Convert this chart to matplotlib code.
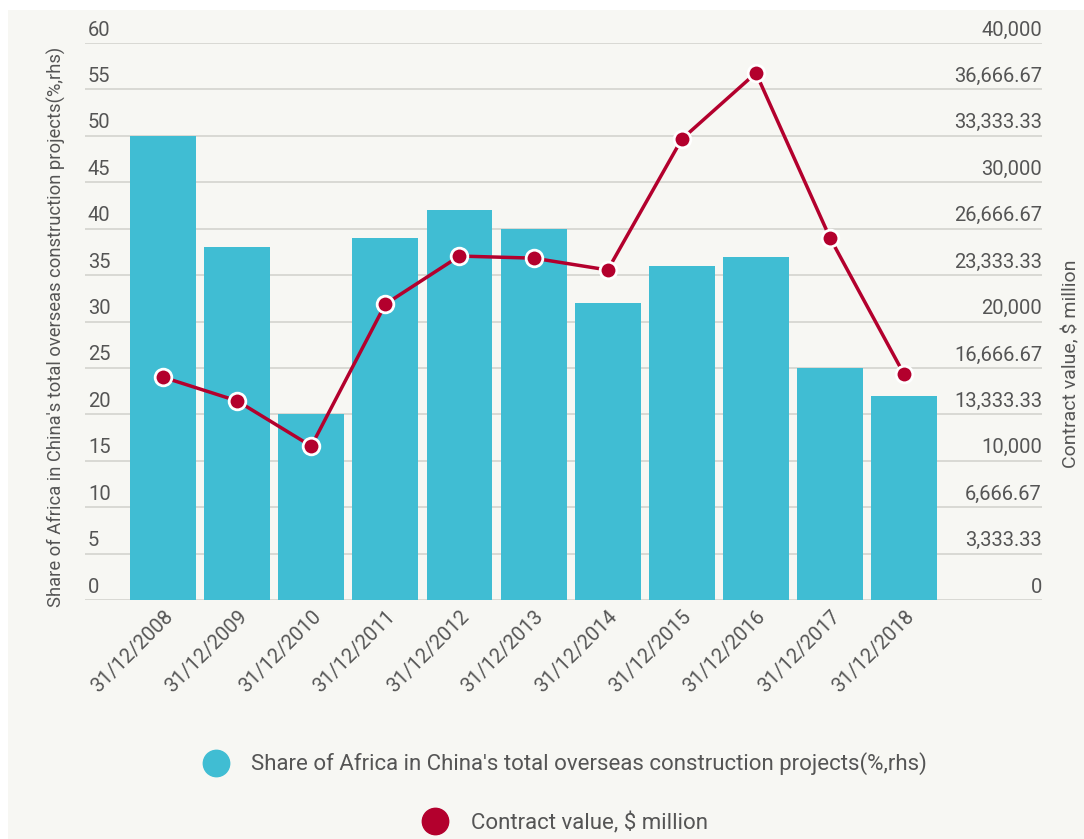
import matplotlib.pyplot as plt
from matplotlib.patches import Rectangle
from matplotlib.lines import Line2D
import numpy as np

# --- data ---
dates = ["31/12/2008", "31/12/2009", "31/12/2010", "31/12/2011", "31/12/2012",
         "31/12/2013", "31/12/2014", "31/12/2015", "31/12/2016", "31/12/2017",
         "31/12/2018"]
africa_share = [50, 38, 20, 39, 42, 40, 32, 36, 37, 25, 22]
contract_value = [16000, 14300, 11050, 21250, 24700, 24550, 23700, 33100,
                  37850, 26000, 16200]

share_ticks = np.arange(0, 61, 5)
value_ticks = np.linspace(0, 40000, 13)

BAR_COLOR = "#40BDD3"
LINE_COLOR = "#B3002D"
TEXT_COLOR = "#555555"
GRID_COLOR = "#D6D6D1"
PANEL_COLOR = "#F7F7F3"

plt.rcParams['font.family'] = ['Roboto', 'DejaVu Sans']

fig = plt.figure(figsize=(10.84, 8.39), dpi=100, facecolor="white")
fig.patches.append(Rectangle((8 / 1084, 0), 1 - 8 / 1084, 1 - 10 / 839,
                             transform=fig.transFigure, facecolor=PANEL_COLOR,
                             edgecolor="none", zorder=-10))

ax = fig.add_axes([85 / 1084, 1 - 600 / 839, (1042 - 85) / 1084, (600 - 43) / 839])
ax.set_facecolor("none")
ax2 = ax.twinx()

x = np.arange(len(dates))
ax.bar(x, africa_share, width=0.89, color=BAR_COLOR, zorder=3)
ax.set_xlim(-1.053, 11.86)
ax.set_ylim(0, 60)

# horizontal grid with labels sitting just above each line
for v in share_ticks:
    ax.axhline(v, color=GRID_COLOR, lw=1.3, zorder=1)
    ax.annotate(f"{v:g}", xy=(0.003, v), xycoords=ax.get_yaxis_transform(),
                xytext=(0, 2.5), textcoords="offset points", ha="left", va="bottom",
                fontsize=14.5, color=TEXT_COLOR)


def fmt_value(v):
    if abs(v - round(v)) < 1e-6:
        return f"{int(round(v)):,}"
    return f"{v:,.2f}"


for v in value_ticks:
    ax2.annotate(fmt_value(v), xy=(1.0, v), xycoords=ax2.get_yaxis_transform(),
                 xytext=(0, 2.5), textcoords="offset points", ha="right", va="bottom",
                 fontsize=14.5, color=TEXT_COLOR)

ax2.plot(x, contract_value, color=LINE_COLOR, lw=2.5, marker="o", markersize=12,
         markerfacecolor=LINE_COLOR, markeredgecolor="white", markeredgewidth=2,
         zorder=5)
ax2.set_ylim(0, 40000)

for a in (ax, ax2):
    a.set_yticks([])
    for s in a.spines.values():
        s.set_visible(False)

ax.set_xticks(x)
ax.set_xticklabels(dates, rotation=45, ha="right", rotation_mode="anchor",
                   fontsize=14.5, color=TEXT_COLOR)
ax.tick_params(axis="x", length=0, pad=5)

ax.set_ylabel("Share of Africa in China's total overseas construction projects(%,rhs)",
              fontsize=13.2, color=TEXT_COLOR)
ax.yaxis.set_label_coords(-0.02, 0.49)
ax2.set_ylabel("Contract value, $ million", fontsize=14, color=TEXT_COLOR,
               rotation=90)
ax2.yaxis.set_label_coords(1.021, 0.425)

# legend, one centred line per series
h1 = Line2D([], [], ls="none", marker="o", markersize=19, color=BAR_COLOR)
h2 = Line2D([], [], ls="none", marker="o", markersize=19, color=LINE_COLOR)
for h, lab, yy in [(h1, "Share of Africa in China's total overseas construction projects(%,rhs)", 764),
                   (h2, "Contract value, $ million", 823)]:
    fig.legend(handles=[h], labels=[lab], loc="center",
               bbox_to_anchor=(0.517, 1 - yy / 839), frameon=False,
               fontsize=16, labelcolor=TEXT_COLOR, handletextpad=0.6)

fig.savefig("out.png", dpi=100, facecolor=fig.get_facecolor())
